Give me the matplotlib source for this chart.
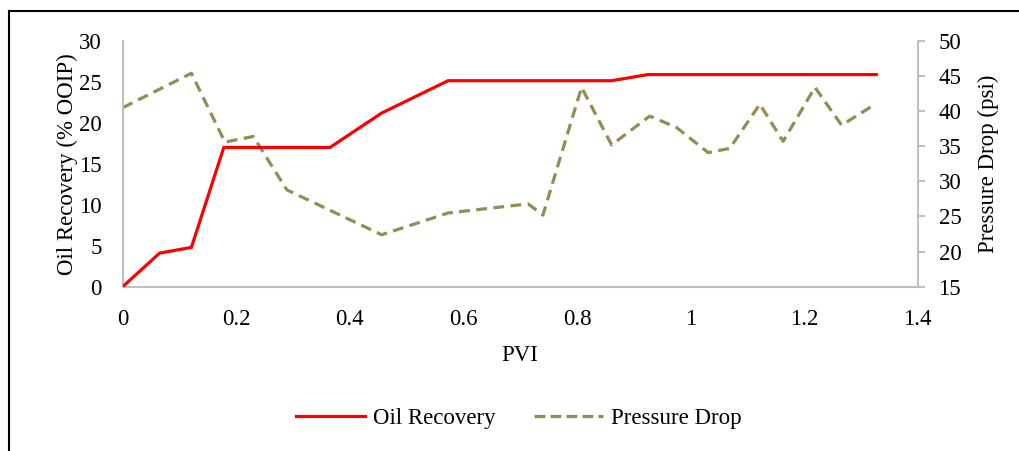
import matplotlib
matplotlib.use('Agg')
import matplotlib.pyplot as plt
from matplotlib.lines import Line2D

# data
pvi_oil = [0, 0.065, 0.121, 0.178, 0.365, 0.456, 0.573, 0.861, 0.925, 1.327]
oil_recovery = [0, 4.1, 4.8, 17.0, 17.0, 21.2, 25.15, 25.15, 25.9, 25.9]

pvi_dp = [0, 0.121, 0.180, 0.230, 0.289, 0.456, 0.573, 0.714, 0.740, 0.808,
          0.861, 0.928, 0.975, 1.031, 1.069, 1.122, 1.163, 1.219, 1.266, 1.325]
pressure_drop = [40.5, 45.4, 35.6, 36.4, 28.8, 22.4, 25.5, 26.8, 25.2, 43.4,
                 35.2, 39.3, 37.7, 34.1, 34.7, 41.0, 35.7, 43.4, 38.0, 41.0]

x_ticks = [0, 0.2, 0.4, 0.6, 0.8, 1, 1.2, 1.4]
x_tick_labels = ['0', '0.2', '0.4', '0.6', '0.8', '1', '1.2', '1.4']
oil_ticks = [0, 5, 10, 15, 20, 25, 30]
dp_ticks = [15, 20, 25, 30, 35, 40, 45, 50]

plt.rcParams['font.family'] = ['Liberation Serif', 'DejaVu Serif']
plt.rcParams['font.size'] = 16.5

red = '#FF0000'
olive = '#958B56'
grey = '#BFBFBF'

fig = plt.figure(figsize=(10.19, 4.51), dpi=100)
ax = fig.add_axes([0.1204, 0.3643, 0.7802, 0.5448])
ax2 = ax.twinx()

ax.plot(pvi_oil, oil_recovery, color=red, linewidth=2.3, solid_joinstyle='miter',
        label='Oil Recovery', zorder=3)
ax2.plot(pvi_dp, pressure_drop, color=olive, linewidth=2.3, dashes=(3.4, 2.0),
         label='Pressure Drop')
ax.set_zorder(ax2.get_zorder() + 1)
ax.patch.set_visible(False)

ax.set_xlim(0, 1.4)
ax.set_ylim(0, 30)
ax2.set_ylim(15, 50)
ax.set_xticks(x_ticks)
ax.set_xticklabels(x_tick_labels)
ax.set_yticks(oil_ticks)
ax2.set_yticks(dp_ticks)

for a in (ax, ax2):
    for s in a.spines.values():
        s.set_visible(False)
ax.spines['left'].set_visible(True)
ax.spines['bottom'].set_visible(True)
ax2.spines['right'].set_visible(True)
for s in (ax.spines['left'], ax.spines['bottom'], ax2.spines['right']):
    s.set_color(grey)
    s.set_linewidth(1.5)

ax.tick_params(axis='x', length=0, pad=16)
ax.tick_params(axis='y', length=0, pad=15)
ax2.tick_params(axis='y', length=5, width=1.5, color=grey, pad=10)

ax.set_xlabel('PVI', labelpad=11)
ax.set_ylabel('Oil Recovery (% OOIP)', labelpad=1)
ax2.set_ylabel('Pressure Drop (psi)', labelpad=12)

handles = [Line2D([], [], color=red, linewidth=2.3),
           Line2D([], [], color=olive, linewidth=2.3, dashes=(3.4, 1.6))]
fig.legend(handles, ['Oil Recovery', 'Pressure Drop'], loc='center',
           bbox_to_anchor=(0.509, 0.073), ncol=2, frameon=False,
           handlelength=3.0, handletextpad=0.35, columnspacing=1.7)

# frame lines seen at the left and top of the picture
fig.add_artist(Line2D([0.0085, 0.0085], [0, 0.976], color='black', linewidth=1.5))
fig.add_artist(Line2D([0.0085, 1], [0.976, 0.976], color='black', linewidth=1.5))

fig.savefig('out.png', dpi=100)
